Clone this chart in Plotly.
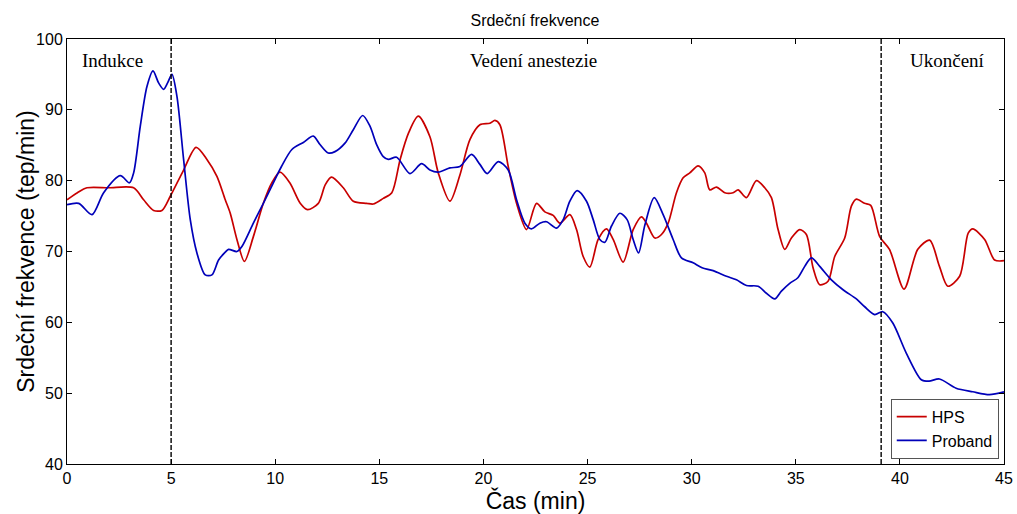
import plotly.graph_objects as go

# --- data ---
hps_t = [0, 0.5, 0.96, 2.0, 3.2, 3.68, 4.16, 4.56, 4.96, 5.6, 6.2, 6.72, 7.2, 7.6, 7.84, 8.16, 8.52,
         8.95, 9.43, 9.84, 10.23, 10.7, 11.2, 11.55, 12.07, 12.4, 12.7, 13.27, 13.75, 14.4, 14.71,
         15.19, 15.6, 16.0, 16.4, 16.87, 17.43, 17.83, 18.39, 18.87, 19.35, 19.83, 20.31, 20.55,
         20.79, 21.19, 21.59, 22.07, 22.55, 22.95, 23.35, 23.67, 24.15, 24.47, 24.79, 25.11, 25.51,
         25.91, 26.23, 26.71, 27.19, 27.59, 27.83, 28.23, 28.55, 28.87, 29.27, 29.59, 29.91, 30.31,
         30.63, 30.87, 31.19, 31.59, 31.99, 32.23, 32.63, 33.11, 33.51, 33.83, 34.15, 34.47, 34.79,
         35.19, 35.51, 35.83, 36.15, 36.55, 36.87, 37.35, 37.67, 37.91, 38.3, 38.6, 39.03, 39.5,
         40.2, 40.86, 41.43, 41.9, 42.3, 42.87, 43.28, 43.5, 44.07, 44.55, 45.0]
hps_v = [77.3, 78.3, 79.0, 79.0, 79.0, 77.3, 75.8, 75.8, 77.8, 81.5, 84.7, 83.0, 80.6, 77.3, 75.4, 71.7, 68.6,
         72.1, 76.8, 79.7, 81.2, 79.7, 76.8, 75.9, 76.8, 79.4, 80.5, 79.0, 77.1, 76.8, 76.7,
         77.5, 78.3, 83.0, 86.7, 89.1, 86.2, 81.1, 77.1, 80.8, 85.8, 87.9, 88.1, 88.5,
         87.9, 82.0, 76.8, 73.1, 76.8, 75.6, 75.1, 74.0, 75.2, 73.1, 69.3, 67.8, 71.7,
         73.2, 71.7, 68.5, 73.1, 74.9, 74.0, 71.9, 72.4, 74.0, 78.3, 80.4, 81.1, 82.1,
         81.1, 78.7, 79.1, 78.3, 78.3, 78.7, 77.6, 80.0, 79.0, 77.6, 73.1, 70.3, 71.9,
         73.1, 72.4, 67.7, 65.3, 65.8, 69.3, 71.9, 76.4, 77.4, 76.8, 76.5, 72.1, 70.3,
         64.7, 70.3, 71.6, 67.9, 65.1, 66.5, 72.6, 73.2, 71.7, 68.8, 68.7]

proband_t = [0, 0.56, 1.2, 1.76, 2.56, 3.0, 3.2, 3.52, 3.84, 4.13, 4.4, 4.64, 4.83, 5.04, 5.28, 5.6,
             5.92, 6.24, 6.64, 6.96, 7.28, 7.6, 7.76, 8.16, 8.4, 8.95, 9.43, 9.91, 10.3, 10.8, 11.35,
             11.83, 12.15, 12.55, 12.87, 13.35, 13.75, 14.2, 14.55, 14.87, 15.19, 15.43, 15.83, 16.47,
             17.03, 17.43, 17.83, 18.39, 18.87, 19.43, 19.83, 20.18, 20.71, 21.19, 21.59, 21.99, 22.31,
             22.71, 23.03, 23.51, 23.83, 24.15, 24.5, 24.95, 25.27, 25.59, 25.83, 26.15, 26.55, 26.9,
             27.19, 27.45, 27.75, 28.2, 28.63, 29.11, 29.51, 30.07, 30.5, 31.03, 31.67, 32.15, 32.63,
             33.19, 33.59, 33.99, 34.31, 34.71, 35.1, 35.43, 35.75, 36.15, 36.71, 37.27, 37.91, 38.31,
             38.79, 39.18, 39.66, 40.3, 41.03, 41.4, 41.9, 42.7, 43.5, 44.3, 45.0]
proband_v = [76.6, 76.8, 75.2, 78.3, 80.7, 79.7, 81.1, 87.7, 93.3, 95.5, 93.8, 92.9, 93.8, 95.0, 91.9, 83.0,
             74.5, 69.8, 66.7, 66.7, 68.8, 69.9, 70.3, 70.0, 70.7, 74.0, 76.8, 79.7, 82.0, 84.4, 85.4,
             86.3, 85.1, 83.9, 84.1, 85.3, 87.2, 89.2, 87.7, 85.1, 83.4, 83.0, 83.3, 81.0,
             82.4, 81.5, 81.2, 81.8, 82.0, 83.7, 82.3, 81.0, 82.7, 81.5, 77.3, 74.0, 73.2,
             74.0, 74.2, 73.3, 74.5, 77.1, 78.6, 77.1, 74.5, 71.7, 71.3, 73.6, 75.4, 74.5,
             71.7, 69.8, 73.7, 77.6, 75.2, 71.7, 69.1, 68.4, 67.7, 67.3, 66.5, 66.0, 65.2,
             65.1, 64.1, 63.3, 64.4, 65.5, 66.3, 67.9, 69.1, 67.9, 66.0, 64.6, 63.3, 62.2,
             61.1, 61.5, 59.9, 55.7, 51.9, 51.7, 52.0, 50.7, 50.2, 49.8, 50.2]

phase_bounds = [5.0, 39.1]
phase_labels = ["Indukce", "Vedení anestezie", "Ukončení"]
phase_label_x = [2.2, 22.4, 42.3]

x_ticks = [0, 5, 10, 15, 20, 25, 30, 35, 40, 45]
y_ticks = [40, 50, 60, 70, 80, 90, 100]

fig = go.Figure()
fig.add_trace(go.Scatter(x=hps_t, y=hps_v, mode="lines", name="HPS",
                         line=dict(color="rgb(200,0,0)", width=1.7, shape="spline", smoothing=0.8)))
fig.add_trace(go.Scatter(x=proband_t, y=proband_v, mode="lines", name="Proband",
                         line=dict(color="rgb(0,0,185)", width=1.7, shape="spline", smoothing=0.8)))

for b in phase_bounds:
    fig.add_shape(type="line", xref="x", yref="y", x0=b, x1=b, y0=40, y1=100,
                  line=dict(color="black", width=1.4, dash="5px,2px"))

for lbl, lx in zip(phase_labels, phase_label_x):
    fig.add_annotation(x=lx, y=97, xref="x", yref="y", text=lbl, showarrow=False,
                       font=dict(family="Liberation Serif", size=19, color="black"))

axis_common = dict(showline=True, linecolor="black", linewidth=1, mirror="ticks",
                   ticks="inside", ticklen=5, tickcolor="black", showgrid=False, zeroline=False,
                   automargin=False,
                   tickfont=dict(family="Liberation Sans", size=16, color="black"))

fig.update_xaxes(range=[0, 45], tickvals=x_ticks, **axis_common,
                 title=dict(text="Čas (min)", font=dict(family="Liberation Sans", size=23, color="black"),
                            standoff=0))
fig.update_yaxes(range=[40, 100], tickvals=y_ticks, **axis_common)

# y-axis title placed as rotated text to match the reference position
fig.add_annotation(text="Srdeční frekvence (tep/min)", xref="paper", yref="paper",
                   x=-0.0445, y=0.5, xanchor="center", yanchor="middle", textangle=-90,
                   showarrow=False, font=dict(family="Liberation Sans", size=23, color="black"))

fig.update_layout(
    width=1017, height=514,
    margin=dict(l=67, r=13, t=39, b=50),
    paper_bgcolor="white", plot_bgcolor="white",
    title=dict(text="Srdeční frekvence", x=0.526, xanchor="center", y=0.961, yanchor="middle",
               font=dict(family="Liberation Sans", size=16, color="black")),
    legend=dict(x=0.9944, y=0.0125, xanchor="right", yanchor="bottom",
                bgcolor="white", bordercolor="#555555", borderwidth=1,
                font=dict(family="Liberation Sans", size=16, color="black"),
                tracegroupgap=0, itemwidth=30),
    showlegend=True,
)

fig.write_html("out.html")
